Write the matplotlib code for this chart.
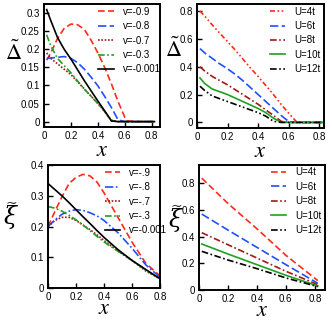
import numpy as np
import matplotlib
matplotlib.use("Agg")
import matplotlib.pyplot as plt
from matplotlib.ticker import FuncFormatter

plt.rcParams['font.family'] = ['Liberation Sans', 'DejaVu Sans']
plt.rcParams['mathtext.fontset'] = 'stix'

# panel (a): Delta vs x for several v
xa = [0.02, 0.05, 0.1, 0.15, 0.2, 0.25, 0.3, 0.35, 0.4, 0.45, 0.5, 0.55, 0.6, 0.62, 0.7, 0.82]
a_v09 = [0.17, 0.19, 0.23, 0.258, 0.27, 0.268, 0.255, 0.225, 0.19, 0.15, 0.105, 0.055, 0.012, 0.002, 0, 0]
a_v08 = [0.175, 0.176, 0.178, 0.18, 0.175, 0.163, 0.145, 0.123, 0.099, 0.07, 0.039, 0.005, 0, 0, 0, 0]
a_v07 = [0.19, 0.175, 0.16, 0.145, 0.13, 0.11, 0.09, 0.07, 0.05, 0.028, 0.004, 0, 0, 0, 0, 0]
a_v03 = [0.24, 0.21, 0.175, 0.155, 0.135, 0.112, 0.09, 0.07, 0.05, 0.028, 0.002, 0, 0, 0, 0, 0]
a_v0 = [0.31, 0.28, 0.233, 0.2, 0.173, 0.143, 0.113, 0.085, 0.057, 0.03, 0.002, 0, 0, 0, 0, 0]
labels_a = ['v=-0.9', 'v=-0.8', 'v=-0.7', 'v=-0.3', 'v=-0.001']

# panel (b): Delta vs x for several U
xb = [0.02, 0.05, 0.1, 0.15, 0.2, 0.25, 0.3, 0.35, 0.4, 0.45, 0.5, 0.55, 0.6, 0.65, 0.7, 0.82]
b_u4 = [0.8, 0.765, 0.70, 0.64, 0.58, 0.52, 0.455, 0.39, 0.33, 0.265, 0.20, 0.13, 0.065, 0.005, 0, 0]
b_u6 = [0.53, 0.50, 0.46, 0.42, 0.385, 0.345, 0.3, 0.25, 0.2, 0.15, 0.1, 0.05, 0.006, 0, 0, 0]
b_u8 = [0.40, 0.37, 0.33, 0.3, 0.27, 0.235, 0.2, 0.165, 0.13, 0.09, 0.05, 0.008, 0, 0, 0, 0]
b_u10 = [0.32, 0.28, 0.24, 0.22, 0.2, 0.175, 0.15, 0.125, 0.1, 0.07, 0.03, 0.002, 0, 0, 0, 0]
b_u12 = [0.26, 0.23, 0.19, 0.17, 0.15, 0.13, 0.11, 0.09, 0.07, 0.045, 0.008, 0, 0, 0, 0, 0]
labels_b = ['U=4t', 'U=6t', 'U=8t', 'U=10t', 'U=12t']

# panel (c): xi vs x for several v
xc = [0, 0.05, 0.1, 0.15, 0.2, 0.25, 0.3, 0.35, 0.4, 0.5, 0.6, 0.7, 0.8]
c_v09 = [0.2, 0.25, 0.297, 0.34, 0.36, 0.37, 0.365, 0.345, 0.31, 0.23, 0.15, 0.08, 0.04]
c_v08 = [0.2, 0.222, 0.24, 0.25, 0.255, 0.253, 0.245, 0.235, 0.22, 0.18, 0.13, 0.075, 0.035]
c_v07 = [0.2, 0.22, 0.23, 0.23, 0.22, 0.205, 0.19, 0.173, 0.155, 0.12, 0.09, 0.055, 0.03]
c_v03 = [0.265, 0.26, 0.25, 0.237, 0.222, 0.205, 0.187, 0.168, 0.15, 0.12, 0.09, 0.058, 0.03]
c_v0 = [0.34, 0.32, 0.3, 0.278, 0.255, 0.232, 0.21, 0.187, 0.165, 0.125, 0.09, 0.06, 0.03]
labels_c = ['v=-.9', 'v=-.8', 'v=-.7', 'v=-.3', 'v=-0.001']

# panel (d): xi vs x for several U
xd = [0.02, 0.2, 0.4, 0.6, 0.82]
d_u4 = [0.84, 0.65, 0.46, 0.26, 0.07]
d_u6 = [0.57, 0.45, 0.32, 0.19, 0.05]
d_u8 = [0.43, 0.34, 0.24, 0.14, 0.04]
d_u10 = [0.345, 0.27, 0.19, 0.11, 0.03]
d_u12 = [0.29, 0.225, 0.16, 0.09, 0.025]
labels_d = labels_b

RED, BLUE, MAROON, GREEN, BLACK = '#ff2a1a', '#1f4fff', '#a01818', '#20a020', '#000000'
colors = [RED, BLUE, MAROON, GREEN, BLACK]

fig = plt.figure(figsize=(3.32, 3.2), dpi=100)


def style(ax, xlim, ylim, xticks, yticks, xpad):
    ax.set_xlim(*xlim)
    ax.set_ylim(*ylim)
    ax.set_xticks(xticks)
    ax.set_yticks(yticks)
    fmt = FuncFormatter(lambda v, p: '%g' % round(v, 3))
    ax.xaxis.set_major_formatter(fmt)
    ax.yaxis.set_major_formatter(fmt)
    ax.tick_params(direction='in', length=3.5, width=1, labelsize=7, pad=3,
                   top=False, right=False)
    for s in ax.spines.values():
        s.set_linewidth(1.4)
    ax.set_xlabel(r'$x$', fontsize=16, labelpad=xpad)


def ylabel_delta(ax, lx, ly):
    ax.text(lx, ly, r'$\tilde{\Delta}$', transform=ax.transAxes, fontsize=16,
            ha='center', va='center')


def ylabel_xi(ax, lx, ly):
    # xi with a tilde sitting on top
    ax.text(lx, ly, 'ξ', transform=ax.transAxes, fontsize=17,
            family='DejaVu Serif', style='italic', ha='center', va='center')
    ax.text(lx + 0.01, ly + 0.1, '~', transform=ax.transAxes, fontsize=10,
            family='DejaVu Serif', ha='center', va='center')


def legend(ax, dx):
    ax.legend(loc='upper right', frameon=False, fontsize=7, handlelength=1.6,
              handletextpad=0.9, labelspacing=0.45, borderaxespad=0.0,
              bbox_to_anchor=(1 + dx, 1.01))


ax1 = fig.add_axes([0.1325, 0.603, 0.349, 0.384])
styles1 = [(0, (4, 2)), (0, (5, 2)), (0, (1, 1)), (0, (4, 1.5, 1, 1.5)), '-']
for y, ls, c, lab in zip([a_v09, a_v08, a_v07, a_v03, a_v0], styles1, colors, labels_a):
    ax1.plot(xa, y, ls=ls, color=c, lw=1.2, label=lab)
style(ax1, (0, 0.86), (-0.015, 0.325), [0, 0.2, 0.4, 0.6, 0.8],
      [0, 0.05, 0.1, 0.15, 0.2, 0.25, 0.3], -1)
ylabel_delta(ax1, -0.26, 0.60)
legend(ax1, 0.04)

ax2 = fig.add_axes([0.593, 0.600, 0.383, 0.3875])
styles2 = [(0, (3, 1.5, 1, 1.5, 1, 1.5)), (0, (5, 2)), (0, (4, 1.5, 1, 1.5)), '-',
           (0, (4, 1.5, 1, 1.5, 1, 1.5))]
for y, ls, c, lab in zip([b_u4, b_u6, b_u8, b_u10, b_u12], styles2, colors, labels_b):
    ax2.plot(xb, y, ls=ls, color=c, lw=1.2, label=lab)
style(ax2, (0, 0.83), (-0.04, 0.85), [0, 0.2, 0.4, 0.6, 0.8],
      [0, 0.2, 0.4, 0.6, 0.8], -1)
ylabel_delta(ax2, -0.18, 0.63)
legend(ax2, 0.0)

ax3 = fig.add_axes([0.1446, 0.1, 0.337, 0.384])
styles3 = [(0, (4, 2)), (0, (5, 1.5, 1, 1.5)), (0, (1, 1)), (0, (4, 1.5, 1, 1.5)), '-']
for y, ls, c, lab in zip([c_v09, c_v08, c_v07, c_v03, c_v0], styles3, colors, labels_c):
    ax3.plot(xc, y, ls=ls, color=c, lw=1.2, label=lab)
style(ax3, (0, 0.8), (0, 0.4), [0, 0.2, 0.4, 0.6, 0.8],
      [0, 0.1, 0.2, 0.3, 0.4], -3)
ylabel_xi(ax3, -0.34, 0.58)
legend(ax3, 0.1)

ax4 = fig.add_axes([0.599, 0.094, 0.380, 0.391])
styles4 = [(0, (4, 2)), (0, (5, 2)), (0, (4, 1.5, 1, 1.5)), '-', (0, (4, 1.5, 1, 1.5))]
for y, ls, c, lab in zip([d_u4, d_u6, d_u8, d_u10, d_u12], styles4, colors, labels_d):
    ax4.plot(xd, y, ls=ls, color=c, lw=1.2, label=lab)
style(ax4, (0, 0.87), (0, 0.94), [0, 0.2, 0.4, 0.6, 0.8],
      [0, 0.2, 0.4, 0.6, 0.8], -3)
ylabel_xi(ax4, -0.19, 0.56)
legend(ax4, 0.0)

fig.savefig('out.png', dpi=100)
